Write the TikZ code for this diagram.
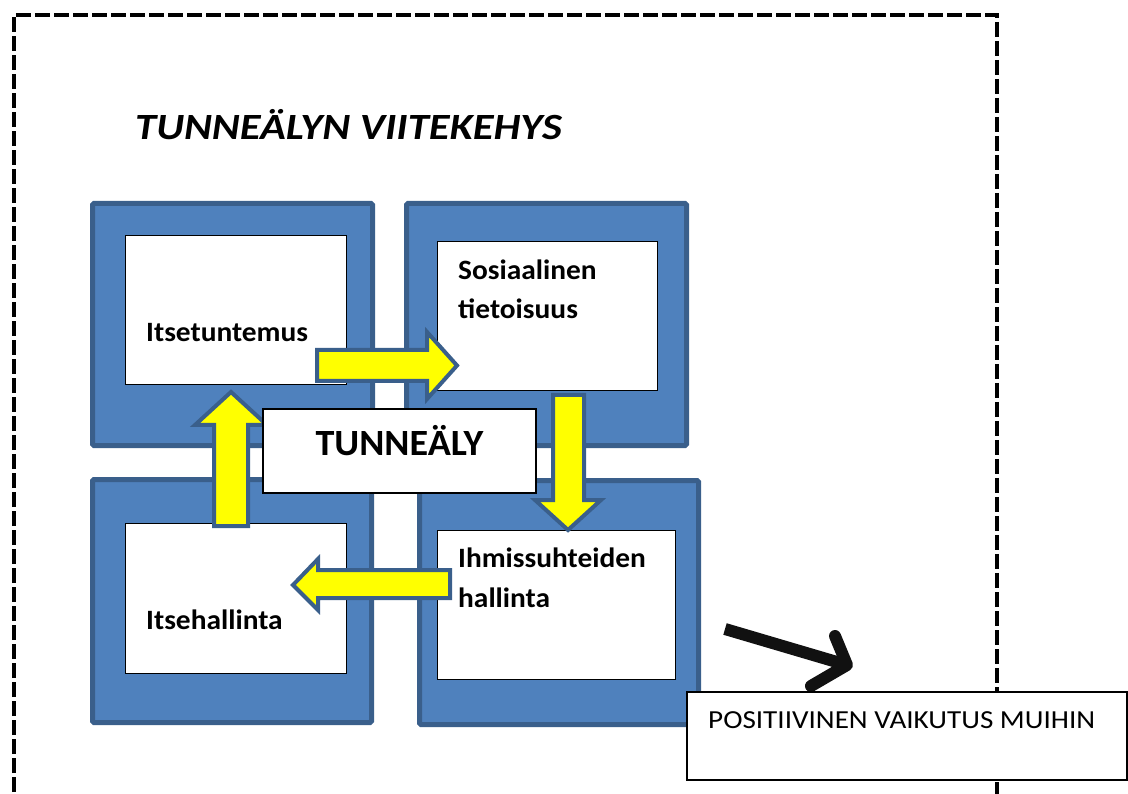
\documentclass[tikz,border=0pt]{standalone}
\usepackage{fontspec}
\setmainfont{Carlito}
\newfontfamily\titlefont[FakeStretch=1.15]{Carlito}
\newfontfamily\resfont[FakeStretch=1.12]{Carlito}
\newfontfamily\labfont[FakeStretch=1.05]{Carlito}
\newfontfamily\cenfont[FakeStretch=1.03]{Carlito}
\usetikzlibrary{calc}
\definecolor{sqfill}{HTML}{4F81BD}
\definecolor{sqline}{HTML}{3A5F8B}
\definecolor{ayellow}{HTML}{FFFF00}
\definecolor{darkarrow}{HTML}{111111}
\begin{document}
\begin{tikzpicture}[x=1pt,y=-1pt,
  bluesq/.style={draw=sqline, fill=sqfill, line width=5pt, rounded corners=1.5pt,
    inner sep=0pt, outer sep=0pt, anchor=north west},
  whitebox/.style={draw=black, fill=white, line width=1pt, inner sep=0pt, outer sep=0pt, anchor=north west},
  label/.style={font=\labfont\bfseries\fontsize{28}{32}\selectfont, anchor=base west, inner sep=0pt},
  yarrow/.style={draw=sqline, fill=ayellow, line width=4pt, line join=miter},
  border/.style={draw=black, line width=4.5pt, dash pattern=on 15pt off 4pt}
]
\useasboundingbox (0,0) rectangle (1128,794);
\begin{scope}
\clip (0,0) rectangle (1128,794);
\draw[border] (14,830) -- (14,15) -- (997,15) -- (997,830);
\end{scope}

\node[font=\titlefont\bfseries\itshape\fontsize{37}{42}\selectfont, anchor=base west, inner sep=0pt] (title) at (135,140) {TUNNEÄLYN VIITEKEHYS};

% blue squares
\node[bluesq, minimum width=280pt, minimum height=242pt] (sq1) at (92.5,203.5) {};
\node[bluesq, minimum width=280pt, minimum height=242pt] (sq2) at (406.5,203.5) {};
\node[bluesq, minimum width=279pt, minimum height=243pt] (sq3) at (92.5,479.5) {};
\node[bluesq, minimum width=279pt, minimum height=244pt] (sq4) at (419.5,480.5) {};

% inner white boxes
\node[whitebox, minimum width=221pt, minimum height=149pt] (b1) at (125,236) {};
\node[whitebox, minimum width=220pt, minimum height=149pt] (b2) at (437,242) {};
\node[whitebox, minimum width=221pt, minimum height=150pt] (b3) at (125,523) {};
\node[whitebox, minimum width=238pt, minimum height=149pt] (b4) at (437,530) {};

\node[label] (l1) at (146,342) {Itsetuntemus};
\node[label] (l2a) at (458,280) {Sosiaalinen};
\node[label] (l2b) at (458,319) {tietoisuus};
\node[label] (l3) at (146,629) {Itsehallinta};
\node[label] (l4a) at (458,567) {Ihmissuhteiden};
\node[label] (l4b) at (458,607) {hallinta};

% yellow block arrows
\draw[yarrow] (317,350) -- (427,350) -- (427,332) -- (457,365.5) -- (427,399) -- (427,381) -- (317,381) -- cycle;
\draw[yarrow] (553,395) -- (584,395) -- (584,500) -- (601,500) -- (568,530) -- (535,500) -- (553,500) -- cycle;
\draw[yarrow] (450,570) -- (318,570) -- (318,559) -- (293,585) -- (318,610) -- (318,598) -- (450,598) -- cycle;
\draw[yarrow] (214,526) -- (214,425) -- (195,425) -- (231,392) -- (267,425) -- (248,425) -- (248,526) -- cycle;

% central box
\node[draw=black, fill=white, line width=1.5pt, inner sep=0pt, outer sep=0pt, anchor=north west,
  minimum width=273pt, minimum height=84pt] (center) at (263,409) {};
\node[font=\cenfont\bfseries\fontsize{37}{42}\selectfont, anchor=base, inner sep=0pt] (ctext) at (399.5,455) {TUNNEÄLY};

% black arrow
\coordinate (bs) at (725,629);
\coordinate (bt) at (847,665);
\coordinate (bu) at (835,636);
\coordinate (bl) at (811,686);
\draw[darkarrow, line width=12pt] (bs) -- ($(bt)!0.03!(bs)$);
\draw[darkarrow, line width=12pt, line cap=round, line join=round] (bu) -- (bt) -- (bl);

% result box
\node[draw=black, fill=white, line width=1.5pt, inner sep=0pt, outer sep=0pt, anchor=north west,
  minimum width=440pt, minimum height=88pt] (res) at (687,692) {};
\node[font=\resfont\fontsize{26}{30}\selectfont, anchor=base west, inner sep=0pt] (restext) at (708,728) {POSITIIVINEN VAIKUTUS MUIHIN};
\end{tikzpicture}
\end{document}
